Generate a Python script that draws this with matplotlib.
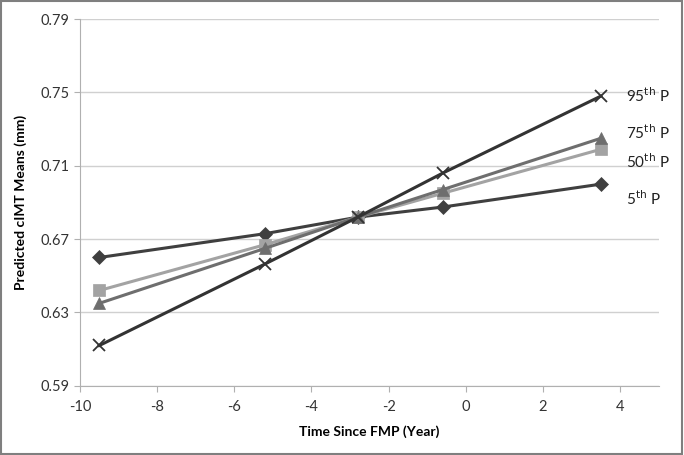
import matplotlib
matplotlib.use("Agg")
import matplotlib.pyplot as plt
from matplotlib.patches import Rectangle

plt.rcParams['font.family'] = ['Lato', 'DejaVu Sans']
plt.rcParams['axes.unicode_minus'] = False

years = [-9.5, -5.2, -2.8, -0.6, 3.5]
p5 = [0.660, 0.673, 0.682, 0.6875, 0.700]
p50 = [0.642, 0.667, 0.682, 0.695, 0.719]
p75 = [0.635, 0.665, 0.682, 0.697, 0.725]
p95 = [0.612, 0.6565, 0.682, 0.706, 0.748]

series = [
    ("5$^{\\mathrm{th}}$ P", p5, "#3f3f3f", "D", 7, 0.692),
    ("50$^{\\mathrm{th}}$ P", p50, "#a3a3a3", "s", 8, 0.712),
    ("75$^{\\mathrm{th}}$ P", p75, "#6e6e6e", "^", 9, 0.728),
    ("95$^{\\mathrm{th}}$ P", p95, "#333333", "x", 9, 0.748),
]

fig = plt.figure(figsize=(6.84, 4.55), dpi=100)
ax = fig.add_axes([0.117, 0.152, 0.846, 0.806])

for label, vals, col, mk, ms, ly in series:
    ax.plot(years, vals, color=col, marker=mk, markersize=ms, linewidth=2.2,
            markeredgewidth=1.3 if mk == "x" else 0.5, markeredgecolor=col)
    ax.text(4.15, ly, label, fontsize=11, color="#222222", va="center", ha="left")

ax.set_xlim(-10, 5)
ax.set_ylim(0.59, 0.79)
ax.set_xticks(range(-10, 5, 2))
ax.set_yticks([0.59, 0.63, 0.67, 0.71, 0.75, 0.79])
ax.set_yticklabels(["0.59", "0.63", "0.67", "0.71", "0.75", "0.79"])
ax.yaxis.grid(True, color="#d0d0d0", linewidth=1)
ax.set_axisbelow(True)
for s in ["top", "right"]:
    ax.spines[s].set_visible(False)
for s in ["left", "bottom"]:
    ax.spines[s].set_color("#b0b0b0")
ax.tick_params(axis="both", colors="#b0b0b0", labelcolor="#333333", labelsize=10.5, length=4)
ax.tick_params(axis="x", pad=6)

ax.set_xlabel("Time Since FMP (Year)", fontsize=10, fontweight="bold", labelpad=8)
ax.set_ylabel("Predicted cIMT Means (mm)", fontsize=10, fontweight="bold", labelpad=10)

fig.add_artist(Rectangle((0.002, 0.003), 0.995, 0.994, transform=fig.transFigure,
                         fill=False, edgecolor="#7f7f7f", linewidth=1.5))

fig.savefig("out.png", dpi=100)
